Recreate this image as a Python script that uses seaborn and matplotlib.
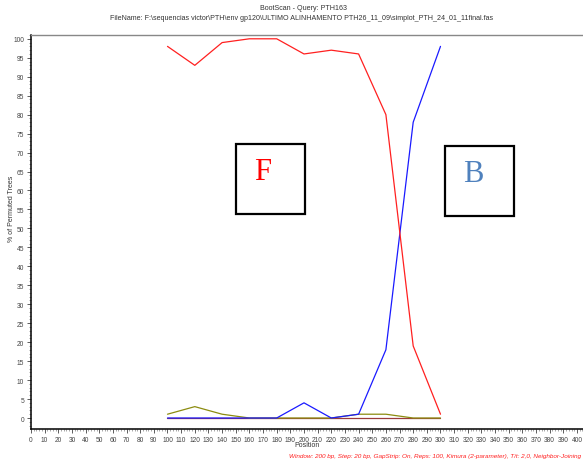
import matplotlib
matplotlib.use("Agg")
import matplotlib.pyplot as plt
import seaborn as sns
import pandas as pd
from matplotlib.patches import Rectangle
from matplotlib.ticker import MultipleLocator

positions = [100, 120, 140, 160, 180, 200, 220, 240, 260, 280, 300]
series_f = [98, 93, 99, 100, 100, 96, 97, 96, 80, 19, 1]
series_b = [0, 0, 0, 0, 0, 4, 0, 1, 18, 78, 98]
series_olive = [1, 3, 1, 0, 0, 0, 0, 1, 1, 0, 0]
series_brown = [0, 0, 0, 0, 0, 0, 0, 0, 0, 0, 0]

names = ["brown", "olive", "B", "F"]
values = [series_brown, series_olive, series_b, series_f]
colors = {"brown": "#9a3a3a", "olive": "#8c8c10", "B": "#1a1aff", "F": "#ff2020"}

rows = []
for n, v in zip(names, values):
    for p, y in zip(positions, v):
        rows.append({"Position": p, "value": y, "series": n})
df = pd.DataFrame(rows)

sns.set_style("white")
plt.rcParams['font.family'] = ['Liberation Sans', 'DejaVu Sans']

W, H = 583, 464
fig = plt.figure(figsize=(W / 100, H / 100), dpi=100)
left, right, top, bottom = 31, 583, 36, 430
ax = fig.add_axes([left / W, (H - bottom) / H, (right - left) / W, (bottom - top) / H])

sns.lineplot(data=df, x="Position", y="value", hue="series", hue_order=names,
             palette=colors, ax=ax, legend=False, linewidth=0.9)

ax.set_xlim(0, 404.4)
ax.set_ylim(-2.9, 101)
ax.xaxis.set_major_locator(MultipleLocator(10))
ax.xaxis.set_minor_locator(MultipleLocator(2))
ax.yaxis.set_major_locator(MultipleLocator(5))
ax.yaxis.set_minor_locator(MultipleLocator(1))
ax.tick_params(axis="both", which="major", direction="out", length=3, width=0.6,
               labelsize=4.8, colors="#444444", pad=2, bottom=True, left=True)
ax.tick_params(axis="both", which="minor", direction="out", length=1.5, width=0.4,
               bottom=True, left=True, colors="#666666")
for s in ["left", "bottom"]:
    ax.spines[s].set_color("black")
    ax.spines[s].set_linewidth(1.1)
ax.spines["top"].set_color("#888888")
ax.spines["top"].set_linewidth(1.0)
ax.spines["right"].set_visible(False)
ax.set_xlabel("")
ax.set_ylabel("")

def px(x, y):
    return x / W, 1 - y / H

fig.text(*px(303, 8), "BootScan - Query: PTH163", ha="center", va="center", fontsize=5.1, color="#333333")
fig.text(*px(302, 18), "FileName: F:\\sequencias victor\\PTH\\env gp120\\ULTIMO ALINHAMENTO PTH26_11_09\\simplot_PTH_24_01_11final.fas",
         ha="center", va="center", fontsize=5.1, color="#333333")
fig.text(*px(307, 446), "Position", ha="center", va="center", fontsize=5, color="#333333")
fig.text(*px(12, 209), "% of Permuted Trees", ha="center", va="center", fontsize=5, rotation=90, color="#333333")
fig.text(*px(581, 457), "Window: 200 bp, Step: 20 bp, GapStrip: On, Reps: 100, Kimura (2-parameter), T/t: 2,0, Neighbor-Joining",
         ha="right", va="center", fontsize=4.6, color="#ff2020", style="italic")

# boxes
for (x0, y0, x1, y1) in [(236, 145, 305, 215), (445, 147, 514, 217)]:
    fx0, fy1 = px(x0, y0)
    fx1, fy0 = px(x1, y1)
    fig.patches.append(Rectangle((fx0, fy0), fx1 - fx0, fy1 - fy0, transform=fig.transFigure,
                                 fill=False, edgecolor="black", linewidth=1.6))
fig.text(*px(263, 173), "F", ha="center", va="center", fontsize=22, color="#ff0000", family="Liberation Serif")
fig.text(*px(473, 175), "B", ha="center", va="center", fontsize=22, color="#4f81bd", family="Liberation Serif")

fig.savefig("out.png", dpi=100)
